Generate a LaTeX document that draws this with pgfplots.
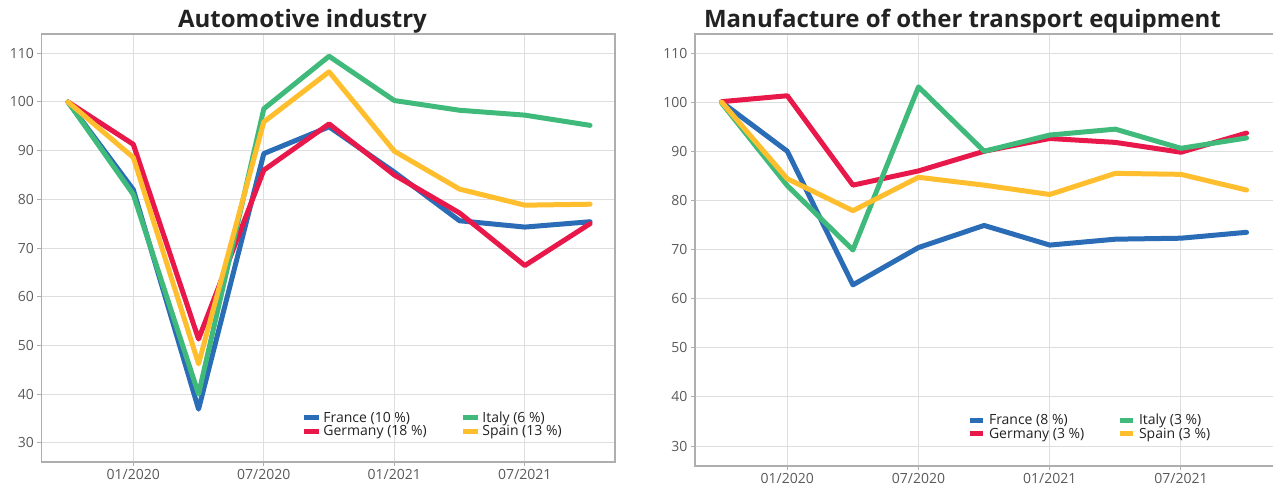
\documentclass[border=0pt]{standalone}
\usepackage{pgfplots}
\pgfplotsset{compat=1.18}
\usepackage{fontspec}
\setmainfont{Open Sans}
\definecolor{cFR}{HTML}{2B6CB6}
\definecolor{cDE}{HTML}{E8194A}
\definecolor{cIT}{HTML}{40BA7A}
\definecolor{cES}{HTML}{FFBE2E}
\definecolor{axisgray}{HTML}{AEAEAE}
\definecolor{gridgray}{HTML}{DEDEDE}
\definecolor{labelgray}{HTML}{5A5A5A}
\definecolor{titlegray}{HTML}{222222}
\pgfplotsset{
  common/.style={
    scale only axis,
    axis line style={draw=axisgray, line width=1.3pt},
    grid=major,
    major grid style={draw=gridgray, line width=1pt},
    xtick={1,3,5,7},
    xticklabels={01/2020,07/2020,01/2021,07/2021},
    ytick={30,40,...,110},
    xtick pos=bottom, ytick pos=left,
    tick align=outside,
    major tick length=4pt,
    tick style={draw=axisgray, line width=1pt},
    ticklabel style={font=\fontsize{14}{16}\selectfont, text=labelgray},
    /pgf/number format/assume math mode=true,
    every axis plot/.append style={line width=5pt, line join=round, line cap=round, no markers},
    legend columns=2,
    transpose legend,
    legend cell align=left,
    legend style={draw=none, fill=none, inner sep=0pt, column sep=0pt, row sep=1.5pt,
      font=\fontsize{14}{16}\selectfont, text=titlegray, nodes={inner sep=0pt}},
  }
}
\begin{document}
\begin{tikzpicture}[x=1pt,y=1pt]
\useasboundingbox (0,0) rectangle (1273,486);
\node[font=\bfseries\fontsize{24}{28}\selectfont, text=titlegray, anchor=base] at (302.5,458.5) {Automotive industry};
\node[font=\bfseries\fontsize{24}{28}\selectfont, text=titlegray, anchor=base] at (962.5,458.5) {Manufacture of other transport equipment};
\begin{axis}[common, at={(41.5pt,24pt)}, anchor=south west, width=573.5pt, height=428pt,
  xmin=-0.407, xmax=8.382, ymin=26.04, ymax=113.97,
  legend image code/.code={\draw[#1, line width=5pt, line cap=butt] (0pt,0pt) -- (15pt,0pt);},
  legend style={at={(axis cs:3.581,36.4)}, anchor=north west}]
\addplot[cFR] coordinates {(0,100) (1,82) (2,36.9) (3,89.4) (4,94.9) (5,85.6) (6,75.6) (7,74.3) (8,75.4)};
\addlegendentry{\makebox[139pt][l]{\hspace*{1.5pt}France (10 \%)}}
\addplot[cDE] coordinates {(0,100) (1,91.3) (2,51.3) (3,86) (4,95.5) (5,85) (6,77.2) (7,66.4) (8,75)};
\addlegendentry{\makebox[139pt][l]{\hspace*{1.5pt}Germany (18 \%)}}
\addplot[cIT] coordinates {(0,100) (1,81) (2,40.0) (3,98.6) (4,109.4) (5,100.3) (6,98.3) (7,97.3) (8,95.2)};
\addlegendentry{\hspace*{1.5pt}Italy (6 \%)}
\addplot[cES] coordinates {(0,100) (1,88.6) (2,46.2) (3,95.9) (4,106.2) (5,89.9) (6,82.1) (7,78.8) (8,79)};
\addlegendentry{\hspace*{1.5pt}Spain (13 \%)}
\end{axis}
\begin{axis}[common, at={(695pt,20pt)}, anchor=south west, width=580pt, height=432pt,
  xmin=-0.407, xmax=8.434, ymin=25.93, ymax=113.87,
  legend image code/.code={\draw[#1, line width=5pt, line cap=butt] (0pt,0pt) -- (13pt,0pt);},
  legend style={at={(axis cs:3.744,36.5)}, anchor=north west}]
\addplot[cFR] coordinates {(0,100) (1,90) (2,62.8) (3,70.4) (4,74.9) (5,70.9) (6,72.1) (7,72.3) (8,73.5)};
\addlegendentry{\makebox[132pt][l]{\hspace*{3.5pt}France (8 \%)}}
\addplot[cDE] coordinates {(0,100.1) (1,101.3) (2,83.1) (3,86) (4,90) (5,92.6) (6,91.8) (7,89.8) (8,93.7)};
\addlegendentry{\makebox[132pt][l]{\hspace*{3.5pt}Germany (3 \%)}}
\addplot[cIT] coordinates {(0,99.8) (1,83) (2,69.9) (3,103.1) (4,90) (5,93.3) (6,94.5) (7,90.6) (8,92.7)};
\addlegendentry{\hspace*{3.5pt}Italy (3 \%)}
\addplot[cES] coordinates {(0,100) (1,84.4) (2,77.9) (3,84.7) (4,83.1) (5,81.2) (6,85.5) (7,85.3) (8,82.1)};
\addlegendentry{\hspace*{3.5pt}Spain (3 \%)}
\end{axis}
\end{tikzpicture}
\end{document}
